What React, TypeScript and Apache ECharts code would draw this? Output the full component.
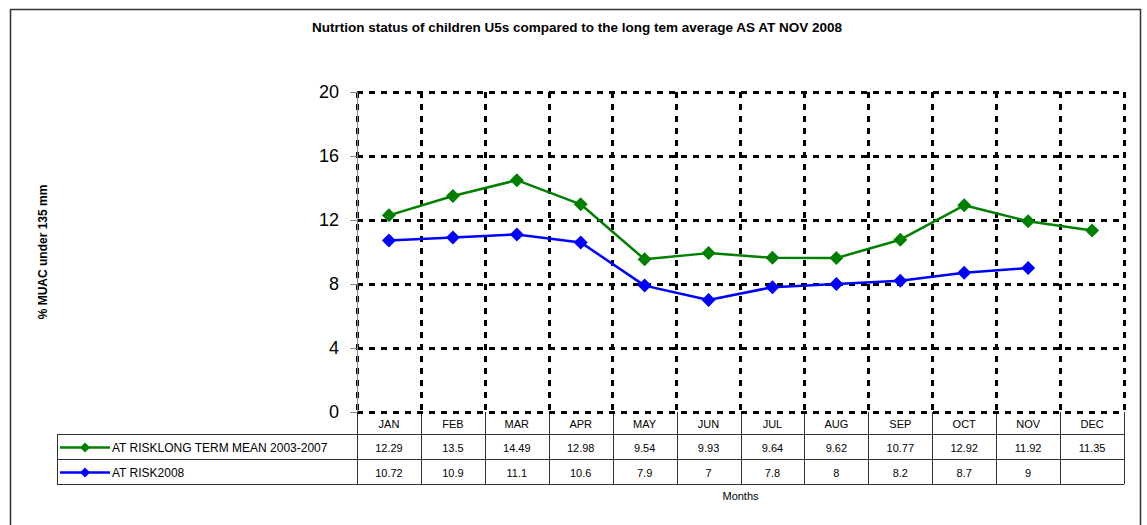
import React, { useEffect, useRef } from "react";
import * as echarts from "echarts";

const months = ["JAN", "FEB", "MAR", "APR", "MAY", "JUN", "JUL", "AUG", "SEP", "OCT", "NOV", "DEC"];
const longTermMean = [12.29, 13.5, 14.49, 12.98, 9.54, 9.93, 9.64, 9.62, 10.77, 12.92, 11.92, 11.35];
const atRisk2008: (number | null)[] = [10.72, 10.9, 11.1, 10.6, 7.9, 7, 7.8, 8, 8.2, 8.7, 9, null];
const seriesNames = ["AT RISKLONG TERM MEAN 2003-2007", "AT RISK2008"];
const seriesColors = ["#008000", "#0000FF"];
const yTicks = { min: 0, max: 20, interval: 4 };

const W = 1147;
const H = 525;
const GL = 357;
const GR = 1124;
const GT = 92;
const GB = 412;
const FONT = "'Liberation Sans', Arial, sans-serif";

export default function App() {
  const ref = useRef<HTMLDivElement>(null);
  useEffect(() => {
    document.body.style.margin = "0";
    const chart = echarts.init(ref.current!, null, { renderer: "svg" });
    const cw = (GR - GL) / months.length;
    const rowTops = [GB, 434, 459, 484];
    const graphics: any[] = [];
    // outer border
    graphics.push({
      type: "rect",
      shape: { x: 10.5, y: 9.5, width: 1130, height: 530 },
      style: { fill: "none", stroke: "#333", lineWidth: 1.5 },
      z: 0,
    });
    graphics.push({
      type: "text",
      x: 577,
      y: 27,
      style: {
        text: "Nutrtion status of children U5s compared to the long tem average AS AT NOV 2008",
        font: `bold 13.5px ${FONT}`,
        fill: "#000",
        align: "center",
        verticalAlign: "middle",
      },
    });
    // table lines
    const lineStyle = { stroke: "#333", lineWidth: 1 };
    for (let i = 0; i <= months.length; i++) {
      const x = Math.round(GL + i * cw) + 0.5;
      graphics.push({ type: "line", shape: { x1: x, y1: GB, x2: x, y2: rowTops[3] }, style: lineStyle });
    }
    for (let r = 1; r < 4; r++) {
      graphics.push({ type: "line", shape: { x1: 57, y1: rowTops[r] + 0.5, x2: GR, y2: rowTops[r] + 0.5 }, style: lineStyle });
    }
    graphics.push({ type: "line", shape: { x1: 57.5, y1: rowTops[1], x2: 57.5, y2: rowTops[3] }, style: lineStyle });
    const rows = [longTermMean, atRisk2008];
    rows.forEach((vals, r) => {
      const cy = (rowTops[r + 1] + rowTops[r + 2]) / 2 + 1;
      // legend key
      graphics.push({ type: "line", shape: { x1: 60, y1: cy, x2: 110, y2: cy }, style: { stroke: seriesColors[r], lineWidth: 2.5 } });
      graphics.push({
        type: "polygon",
        shape: { points: [[85, cy - 5], [90, cy], [85, cy + 5], [80, cy]] },
        style: { fill: seriesColors[r] },
      });
      graphics.push({
        type: "text",
        x: 112,
        y: cy,
        style: { text: seriesNames[r], font: `12px ${FONT}`, fill: "#000", align: "left", verticalAlign: "middle" },
      });
      vals.forEach((v, i) => {
        if (v === null) return;
        graphics.push({
          type: "text",
          x: GL + (i + 0.5) * cw,
          y: cy,
          style: { text: String(v), font: `11px ${FONT}`, fill: "#000", align: "center", verticalAlign: "middle" },
        });
      });
    });

    const dashed = { color: "#000", width: 3, type: [6, 6] as any };
    chart.setOption({
      animation: false,
      grid: { left: GL, right: W - GR, top: GT, bottom: H - GB },
      xAxis: {
        type: "category",
        data: months,
        boundaryGap: true,
        axisLine: { show: false },
        axisTick: { show: false },
        axisLabel: { margin: 6, fontSize: 11, color: "#000", fontFamily: FONT },
        splitLine: { show: true, lineStyle: dashed },
        name: "Months",
        nameLocation: "middle",
        nameGap: 78,
        nameTextStyle: { fontSize: 11, color: "#000", fontFamily: FONT },
      },
      yAxis: {
        type: "value",
        min: yTicks.min,
        max: yTicks.max,
        interval: yTicks.interval,
        axisLine: { show: true, lineStyle: { color: "#888", width: 1 } },
        axisTick: { show: true, length: 7, lineStyle: { color: "#888" } },
        axisLabel: { fontSize: 18, color: "#000", fontFamily: FONT, margin: 18 },
        splitLine: { show: true, lineStyle: dashed },
        name: "% MUAC under 135 mm",
        nameLocation: "middle",
        nameGap: 308,
        nameRotate: 90,
        nameTextStyle: { fontSize: 12, fontWeight: "bold", color: "#000", fontFamily: FONT },
      },
      series: [
        {
          name: seriesNames[0],
          type: "line",
          data: longTermMean,
          symbol: "diamond",
          symbolSize: 14,
          itemStyle: { color: seriesColors[0] },
          lineStyle: { color: seriesColors[0], width: 2.5 },
          z: 5,
        },
        {
          name: seriesNames[1],
          type: "line",
          data: atRisk2008,
          symbol: "diamond",
          symbolSize: 14,
          itemStyle: { color: seriesColors[1] },
          lineStyle: { color: seriesColors[1], width: 2.5 },
          z: 5,
        },
      ],
      graphic: graphics,
    });
    return () => chart.dispose();
  }, []);
  return <div ref={ref} style={{ position: "fixed", left: 0, top: 0, width: W, height: H, background: "#fff" }} />;
}
